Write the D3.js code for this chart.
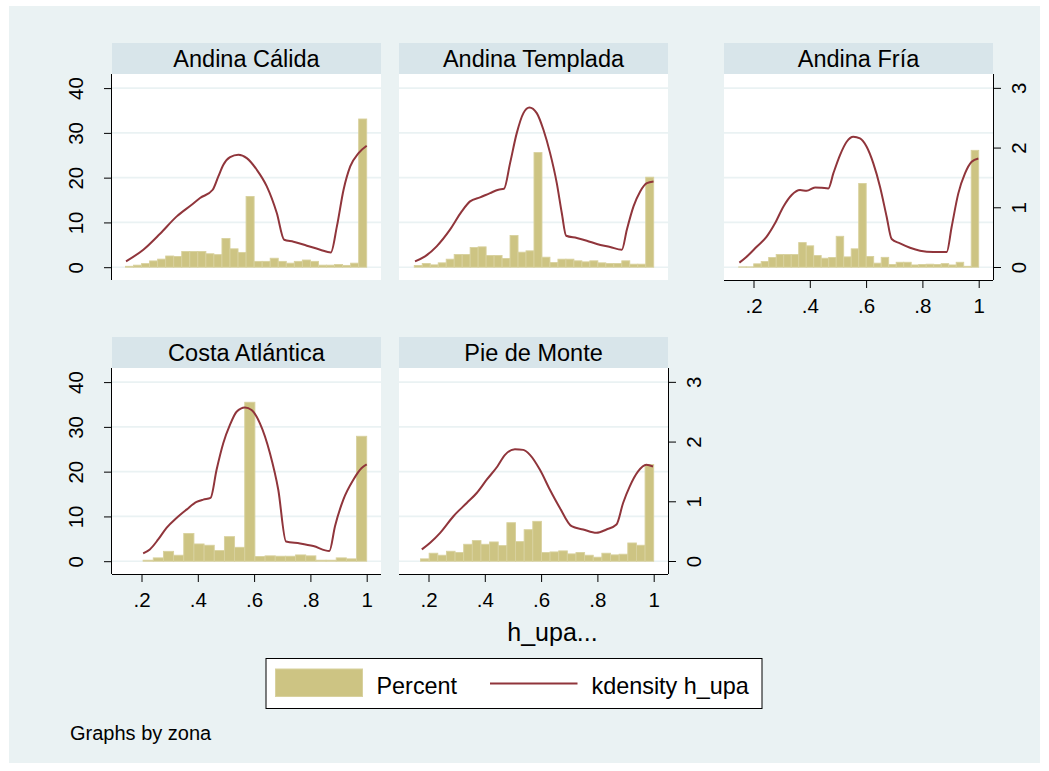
<!DOCTYPE html>
<html>
<head>
<meta charset="utf-8">
<script src="https://cdn.jsdelivr.net/npm/d3@7"></script>
<style>
    body { margin: 0; background: #ffffff; }
    svg { display: block; font-family: "Liberation Sans", Arial, sans-serif; }
</style>
</head>
<body>
<div id="chart"></div>
<script>
// zonas (panel titles), in by() order
const zonas = ["Andina Cálida", "Andina Templada", "Andina Fría", "Costa Atlántica", "Pie de Monte"];

// histogram bins: first edge, last edge, percent per bin
const binMin = [0.143, 0.1495, 0.1474, 0.2057, 0.1716];
const binMax = [1, 1, 1, 1, 1];

const pctCalida = [0.2, 0.45, 0.8, 1.4, 1.8, 2.5, 2.4, 3.5, 3.5, 3.5, 3.0, 2.8, 6.4, 4.1, 3.3, 15.8,
    1.3, 1.3, 2.0, 1.3, 0.9, 1.3, 1.6, 1.3, 0.45, 0.45, 0.6, 0.4, 0.9, 33.1];
const pctTemplada = [0.37, 0.82, 0.52, 0.97, 1.79, 2.83, 2.83, 4.39, 4.54, 2.61, 2.61, 1.94, 7.07, 3.35, 3.65, 25.6,
    2.23, 1.04, 1.79, 1.79, 1.42, 1.19, 1.42, 0.97, 0.82, 0.82, 1.42, 0.67, 0.67, 20.1];
const pctFria = [0.07, 0.07, 0.75, 1.27, 2.16, 2.83, 2.83, 2.83, 5.5, 4.77, 2.6, 2.0, 2.16, 6.9, 2.3, 4.1, 18.7,
    2.4, 0.9, 2.2, 0.6, 1.1, 1.1, 0.5, 0.6, 0.67, 0.6, 0.8, 0.5, 1.1, 0.2, 26.1];
const pctCosta = [0.22, 0.74, 2.2, 1.33, 6.2, 3.85, 3.56, 2.37, 5.48, 3.1, 35.5,
    1.04, 1.19, 1.11, 1.11, 1.4, 1.19, 0.22, 0.22, 0.74, 0.52, 27.9];
const pctPie = [0.52, 1.78, 1.33, 2.22, 1.93, 3.78, 4.6, 3.78, 4.3, 3.48, 8.6, 4.37, 7.04, 8.9,
    1.93, 2.07, 2.3, 1.63, 1.93, 1.33, 0.89, 1.78, 1.41, 1.56, 4.07, 3.56, 21.6];

// kdensity h_upa
const kdXCalida = [0.145, 0.2065, 0.266, 0.3253, 0.3783, 0.408, 0.453, 0.473, 0.4909, 0.5146, 0.5443, 0.574, 0.6095,
    0.6451, 0.6806, 0.7067, 0.74, 0.7874, 0.8348, 0.8728, 0.8941, 0.9178, 0.9415, 0.9711, 1.0];
const kdYCalida = [0.095, 0.29, 0.558, 0.848, 1.043, 1.155, 1.294, 1.517, 1.712, 1.84, 1.88, 1.824, 1.629,
    1.35, 0.904, 0.457, 0.424, 0.357, 0.29, 0.245, 0.68, 1.294, 1.684, 1.907, 2.03];

const kdXTemplada = [0.152, 0.1876, 0.229, 0.2764, 0.318, 0.3476, 0.3831, 0.4187, 0.4483, 0.4684, 0.4898, 0.5135,
    0.5372, 0.5585, 0.5846, 0.6083, 0.632, 0.6557, 0.6735, 0.6889, 0.7268, 0.7624, 0.798, 0.8453, 0.8868,
    0.9046, 0.9283, 0.952, 0.9757, 0.9994];
const kdYTemplada = [0.095, 0.178, 0.346, 0.625, 0.931, 1.099, 1.166, 1.238, 1.294, 1.311, 1.74, 2.242,
    2.577, 2.671, 2.577, 2.298, 1.907, 1.405, 0.904, 0.524, 0.485, 0.441, 0.385, 0.335, 0.29,
    0.625, 1.015, 1.266, 1.405, 1.433];

const kdXFria = [0.1497, 0.1757, 0.2113, 0.2468, 0.2764, 0.306, 0.3356, 0.3652, 0.3889, 0.4185, 0.4422, 0.4658,
    0.4836, 0.5073, 0.531, 0.5546, 0.5783, 0.602, 0.6257, 0.6494, 0.673, 0.6908, 0.7204, 0.756, 0.7915,
    0.8388, 0.8862, 0.904, 0.9276, 0.9513, 0.975, 0.9987];
const kdYFria = [0.073, 0.173, 0.34, 0.508, 0.731, 1.009, 1.205, 1.288, 1.277, 1.333, 1.327, 1.316,
    1.567, 1.874, 2.097, 2.181, 2.153, 2.013, 1.735, 1.344, 0.842, 0.468, 0.396, 0.323, 0.273,
    0.251, 0.251, 0.675, 1.233, 1.567, 1.762, 1.818];

const kdXCosta = [0.2059, 0.2296, 0.2593, 0.2889, 0.3244, 0.36, 0.3956, 0.4193, 0.4453, 0.4667, 0.4904, 0.5141,
    0.5378, 0.5674, 0.5911, 0.6207, 0.6563, 0.6859, 0.7132, 0.763, 0.8104, 0.8673, 0.8874, 0.917,
    0.9526, 0.9822, 1.0];
const kdYCosta = [0.128, 0.194, 0.361, 0.556, 0.722, 0.861, 0.989, 1.028, 1.056, 1.528, 1.972, 2.278,
    2.5, 2.572, 2.528, 2.306, 1.806, 1.194, 0.328, 0.294, 0.25, 0.167, 0.583, 1.028,
    1.361, 1.556, 1.617];

const kdXPie = [0.1764, 0.2059, 0.2414, 0.2886, 0.3359, 0.3713, 0.4068, 0.4446, 0.4718, 0.5072, 0.5368, 0.5604,
    0.5959, 0.6313, 0.6668, 0.7081, 0.7495, 0.7968, 0.8322, 0.8677, 0.8913, 0.915, 0.9445, 0.974, 0.9976];
const kdYPie = [0.194, 0.306, 0.472, 0.75, 0.972, 1.139, 1.361, 1.583, 1.778, 1.872, 1.861, 1.778,
    1.528, 1.194, 0.889, 0.583, 0.528, 0.472, 0.528, 0.611, 0.972, 1.25, 1.5, 1.611, 1.583];

// axis ticks
const xTicks = [0.2, 0.4, 0.6, 0.8, 1];
const pctTicks = [0, 10, 20, 30, 40];
const densTicks = [0, 1, 2, 3];

const pctList = [pctCalida, pctTemplada, pctFria, pctCosta, pctPie];
const kdXList = [kdXCalida, kdXTemplada, kdXFria, kdXCosta, kdXPie];
const kdYList = [kdYCalida, kdYTemplada, kdYFria, kdYCosta, kdYPie];

const colors = {
    graph: "#eaf2f3",
    band: "#d8e5ea",
    grid: "#eaf2f3",
    bar: "#cdc483",
    barEdge: "#d8d19e",
    line: "#90353b"
};

const W = 1049, H = 771;
const panelW = 269, bandH = 31, plotH = 206;
const colX = [112, 399, 724];
const rowY = [43, 337];

// where each zona sits and which axes it shows
const layout = [
    { col: 0, row: 0, left: true, right: false, bottom: false },
    { col: 1, row: 0, left: false, right: false, bottom: false },
    { col: 2, row: 0, left: false, right: true, bottom: true },
    { col: 0, row: 1, left: true, right: false, bottom: true },
    { col: 1, row: 1, left: false, right: true, bottom: true }
];

const svg = d3.select("#chart").append("svg")
    .attr("width", W)
    .attr("height", H);

svg.append("rect")
    .attr("x", 9).attr("y", 6)
    .attr("width", 1031).attr("height", 757)
    .attr("fill", colors.graph);

// shared scales (same for every panel, offsets applied by translate)
const x = d3.scaleLinear().domain([0.0952, 1.0508]).range([0, panelW]);
const yPct = d3.scaleLinear().domain([-2.86, 43.15]).range([plotH, 0]);
const yDens = d3.scaleLinear().domain([-0.2175, 3.232]).range([plotH, 0]);

const kdLine = d3.line()
    .x(d => x(d[0]))
    .y(d => yDens(d[1]))
    .curve(d3.curveMonotoneX);

zonas.forEach((zona, i) => {
    let lay = layout[i];
    let g = svg.append("g")
        .attr("transform", `translate(${colX[lay.col]},${rowY[lay.row]})`);

    // title band
    g.append("rect")
        .attr("width", panelW).attr("height", bandH)
        .attr("fill", colors.band);
    g.append("text")
        .attr("x", panelW / 2).attr("y", 24)
        .attr("text-anchor", "middle")
        .attr("font-size", 23.5)
        .attr("fill", "#000")
        .text(zona);

    let p = g.append("g").attr("transform", `translate(0,${bandH})`);

    p.append("rect")
        .attr("width", panelW).attr("height", plotH)
        .attr("fill", "#fff");

    p.selectAll(".grid")
        .data(pctTicks)
        .join("line")
        .attr("class", "grid")
        .attr("x1", 0).attr("x2", panelW)
        .attr("y1", d => yPct(d)).attr("y2", d => yPct(d))
        .attr("stroke", colors.grid)
        .attr("stroke-width", 1.6);

    // histogram bars
    let pct = pctList[i];
    let bw = (binMax[i] - binMin[i]) / pct.length;
    p.selectAll(".bar")
        .data(pct)
        .join("rect")
        .attr("class", "bar")
        .attr("x", (d, j) => x(binMin[i] + j * bw))
        .attr("width", x(binMin[i] + bw) - x(binMin[i]))
        .attr("y", d => yPct(d))
        .attr("height", d => yPct(0) - yPct(d))
        .attr("fill", colors.bar)
        .attr("stroke", colors.barEdge)
        .attr("stroke-width", 0.9);

    // kdensity
    let pts = kdXList[i].map((v, j) => [v, kdYList[i][j]]);
    p.append("path")
        .datum(pts)
        .attr("d", kdLine)
        .attr("fill", "none")
        .attr("stroke", colors.line)
        .attr("stroke-width", 2);

    if (lay.left) {
        let ax = p.append("g")
            .call(d3.axisLeft(yPct).tickValues(pctTicks).tickSize(8).tickSizeOuter(0).tickFormat(d3.format("d")));
        ax.select(".domain").attr("d", `M-0.5,0V${plotH}`).attr("stroke", "#000");
        ax.selectAll(".tick line").attr("stroke", "#000");
        ax.selectAll(".tick text")
            .attr("x", 0).attr("y", 0)
            .attr("dy", 0)
            .attr("transform", "translate(-29,0) rotate(-90)")
            .attr("text-anchor", "middle")
            .attr("font-size", 20.5)
            .attr("font-family", "Liberation Sans, Arial, sans-serif")
            .attr("fill", "#000");
    }

    if (lay.right) {
        let ax = p.append("g")
            .attr("transform", `translate(${panelW},0)`)
            .call(d3.axisRight(yDens).tickValues(densTicks).tickSize(8).tickSizeOuter(0).tickFormat(d3.format("d")));
        ax.select(".domain").attr("d", `M0.5,0V${plotH}`).attr("stroke", "#000");
        ax.selectAll(".tick line").attr("stroke", "#000");
        ax.selectAll(".tick text")
            .attr("x", 0).attr("y", 0)
            .attr("dy", 0)
            .attr("transform", "translate(33,0) rotate(-90)")
            .attr("text-anchor", "middle")
            .attr("font-size", 20.5)
            .attr("font-family", "Liberation Sans, Arial, sans-serif")
            .attr("fill", "#000");
    }

    if (lay.bottom) {
        let ax = p.append("g")
            .attr("transform", `translate(0,${plotH})`)
            .call(d3.axisBottom(x).tickValues(xTicks).tickSize(8).tickSizeOuter(0)
                .tickFormat(d => d === 1 ? "1" : d3.format(".1f")(d).replace(/^0/, "")));
        ax.select(".domain").attr("d", `M0,0.5H${panelW}`).attr("stroke", "#000");
        ax.selectAll(".tick line").attr("stroke", "#000");
        ax.selectAll(".tick text")
            .attr("y", 33).attr("dy", 0)
            .attr("font-size", 20.5)
            .attr("font-family", "Liberation Sans, Arial, sans-serif")
            .attr("fill", "#000");
    }
});

// x axis title, centred over the columns
svg.append("text")
    .attr("x", (colX[0] + colX[2] + panelW) / 2)
    .attr("y", 641)
    .attr("text-anchor", "middle")
    .attr("font-size", 25)
    .text("h_upa...");

// legend
const legend = svg.append("g").attr("transform", "translate(266,658.5)");
legend.append("rect")
    .attr("width", 496).attr("height", 50)
    .attr("fill", "#fff")
    .attr("stroke", "#000")
    .attr("stroke-width", 1);
legend.append("rect")
    .attr("x", 9.5).attr("y", 10.5)
    .attr("width", 87).attr("height", 27.5)
    .attr("fill", colors.bar)
    .attr("stroke", colors.barEdge)
    .attr("stroke-width", 1);
legend.append("text")
    .attr("x", 110.5).attr("y", 35)
    .attr("font-size", 23.4)
    .text("Percent");
legend.append("line")
    .attr("x1", 224).attr("x2", 311.5)
    .attr("y1", 25).attr("y2", 25)
    .attr("stroke", colors.line)
    .attr("stroke-width", 2);
legend.append("text")
    .attr("x", 325.5).attr("y", 35)
    .attr("font-size", 23.4)
    .text("kdensity h_upa");

svg.append("text")
    .attr("x", 70).attr("y", 740)
    .attr("font-size", 20)
    .text("Graphs by zona");
</script>
</body>
</html>
